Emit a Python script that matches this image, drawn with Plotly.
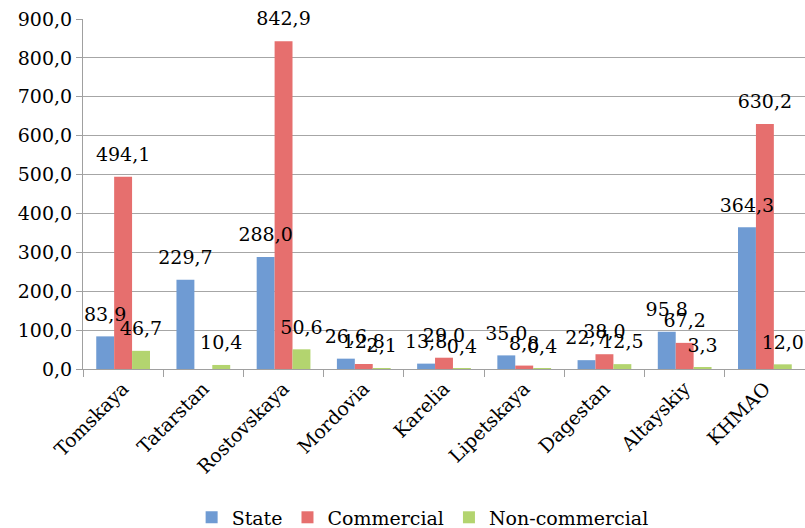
import plotly.graph_objects as go

regions = ["Tomskaya", "Tatarstan", "Rostovskaya", "Mordovia", "Karelia",
           "Lipetskaya", "Dagestan", "Altayskiy", "KHMAO"]
state = [83.9, 229.7, 288.0, 26.6, 13.8, 35.0, 22.7, 95.8, 364.3]
commercial = [494.1, None, 842.9, 12.8, 29.0, 8.8, 38.0, 67.2, 630.2]
noncommercial = [46.7, 10.4, 50.6, 2.1, 0.4, 0.4, 12.5, 3.3, 12.0]

series = [
    ("State", state, "#6f9bd3"),
    ("Commercial", commercial, "#e66f6e"),
    ("Non-commercial", noncommercial, "#b3d46f"),
]

FONT = "DejaVu Serif, Liberation Serif, serif"
FS = 19
GAP = 0.33

def fmt(v):
    return "" if v is None else f"{v:.1f}".replace(".", ",")

fig = go.Figure()
for name, vals, col in series:
    fig.add_trace(go.Bar(
        name=name, x=regions, y=vals,
        marker=dict(color=col, line=dict(width=0)),
        hoverinfo="x+y+name",
    ))
# data labels drawn on top of all bars
for name, vals, col in series:
    fig.add_trace(go.Scatter(
        name=name, x=regions, y=vals, mode="markers+text",
        marker=dict(size=16, opacity=0),
        text=[fmt(v) for v in vals],
        textposition="top center",
        textfont=dict(family=FONT, size=FS, color="#000000"),
        showlegend=False, hoverinfo="skip", cliponaxis=False,
    ))

fig.update_layout(
    width=805, height=528,
    margin=dict(l=83, r=0, t=19, b=159, autoexpand=False),
    paper_bgcolor="white", plot_bgcolor="white",
    barmode="group", bargap=GAP, bargroupgap=0,
    scattermode="group", scattergap=GAP,
    separators=",.",
    font=dict(family=FONT, size=FS, color="#000000"),
    legend=dict(orientation="h", xref="container", x=0.525, xanchor="center",
                yref="container", y=0.02, yanchor="middle",
                font=dict(family=FONT, size=FS, color="#000000"),
                traceorder="normal"),
    xaxis=dict(showline=True, linecolor="#a0a0a0", linewidth=1,
               ticks="outside", tickson="boundaries", ticklen=7, tickcolor="#a0a0a0",
               tickangle=-45, tickfont=dict(family=FONT, size=FS)),
    yaxis=dict(range=[0, 900], dtick=100, tickformat=".1f",
               showline=True, linecolor="#a0a0a0", linewidth=1,
               gridcolor="#a6a6a6", gridwidth=1, zeroline=False,
               ticks="outside", ticklen=6, tickcolor="#a0a0a0",
               tickfont=dict(family=FONT, size=FS)),
)

fig.write_html("out.html")
